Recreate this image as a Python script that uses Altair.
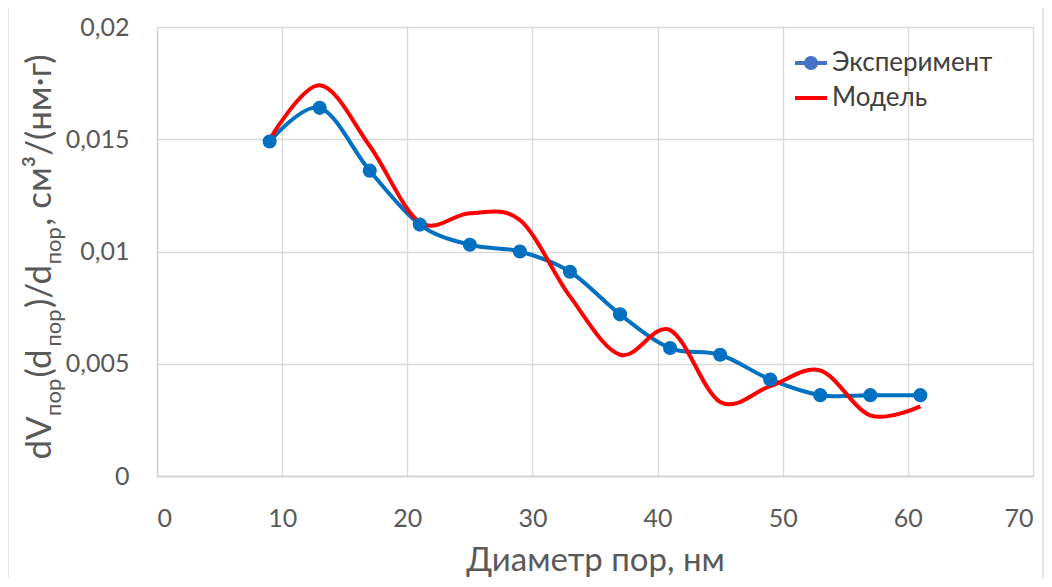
import altair as alt
import pandas as pd

# ---- data ----
diameter = [9, 13, 17, 21, 25, 29, 33, 37, 41, 45, 49, 53, 57, 61]
experiment = [0.0149, 0.0164, 0.0136, 0.0112, 0.0103, 0.0100, 0.0091,
              0.0072, 0.0057, 0.0054, 0.0043, 0.0036, 0.0036, 0.0036]
model = [0.0150, 0.0174, 0.0147, 0.0113, 0.0117, 0.0114, 0.0080,
         0.0054, 0.0065, 0.0033, 0.0040, 0.0047, 0.0027, 0.0031]
x_ticks = [0, 10, 20, 30, 40, 50, 60, 70]
y_ticks = [0, 0.005, 0.01, 0.015, 0.02]
series_names = ["Эксперимент", "Модель"]
x_title = "Диаметр пор, нм"

BLUE = "#0070C0"
LEGEND_BLUE = "#4472C4"
RED = "#FF0000"
GRID = "#d9d9d9"
TXT = "#595959"
FONT = "Lato"

W, H = 876, 449

exp_df = pd.DataFrame({"d": diameter, "v": experiment})
mod_df = pd.DataFrame({"d": diameter, "v": model})

xscale = alt.Scale(domain=[0, 70], nice=False, zero=False)
yscale = alt.Scale(domain=[0, 0.02], nice=False)

xaxis = alt.Axis(values=x_ticks, grid=True, gridColor=GRID, gridWidth=1.3,
                 ticks=False, domainColor="#cfcfcf", domainWidth=1.3,
                 labelFont=FONT, labelFontSize=25, labelColor=TXT, labelPadding=30,
                 title=x_title, titleFont=FONT, titleFontSize=33,
                 titleFontWeight="normal", titleColor=TXT, titlePadding=13)
yaxis = alt.Axis(values=y_ticks, grid=True, gridColor=GRID, gridWidth=1.3,
                 ticks=False, domainColor="#cfcfcf", domainWidth=1.3,
                 labelFont=FONT, labelFontSize=25, labelColor=TXT, labelPadding=28,
                 labelExpr="replace(toString(datum.value), '.', ',')",
                 title=None)

blue_line = alt.Chart(exp_df).mark_line(
    color=BLUE, strokeWidth=4, interpolate="cardinal"
).encode(
    x=alt.X("d:Q", scale=xscale, axis=xaxis),
    y=alt.Y("v:Q", scale=yscale, axis=yaxis),
)
red_line = alt.Chart(mod_df).mark_line(
    color=RED, strokeWidth=4, interpolate="cardinal"
).encode(x=alt.X("d:Q", scale=xscale), y=alt.Y("v:Q", scale=yscale))
blue_pts = alt.Chart(exp_df).mark_point(
    filled=True, color=BLUE, size=200, opacity=1, shape="circle"
).encode(x=alt.X("d:Q", scale=xscale), y=alt.Y("v:Q", scale=yscale))

one = pd.DataFrame({"a": [0]})

def text_piece(txt, x, y, size, angle=0, align="left", baseline="alphabetic", color=TXT):
    kw = dict(font=FONT, fontSize=size, color=color, align=align, baseline=baseline)
    if angle:
        kw["angle"] = angle
    return alt.Chart(one).mark_text(**kw).encode(
        x=alt.value(x), y=alt.value(y), text=alt.value(txt))

# ---- legend ----
leg_y1, leg_y2 = 36, 71
legend = [
    alt.Chart(one).mark_rule(color=LEGEND_BLUE, strokeWidth=4).encode(
        x=alt.value(638), x2=alt.value(670), y=alt.value(leg_y1)),
    alt.Chart(one).mark_point(filled=True, color=LEGEND_BLUE, size=200, opacity=1,
                              shape="circle").encode(
        x=alt.value(654), y=alt.value(leg_y1)),
    text_piece(series_names[0], 675, leg_y1, 26, baseline="middle", color="#404040"),
    alt.Chart(one).mark_rule(color=RED, strokeWidth=4).encode(
        x=alt.value(638), x2=alt.value(670), y=alt.value(leg_y2)),
    text_piece(series_names[1], 675, leg_y2, 26, baseline="middle", color="#404040"),
]

# ---- y title with subscripts (rotated pieces) ----
MAIN, SUB = 35, 22
pieces = [("dV", MAIN, 1.247), ("пор", SUB, 1.754), ("(d", MAIN, 0.879),
          ("пор", SUB, 1.754), (")/d", MAIN, 1.249), ("пор", SUB, 1.754),
          (",  см³/(нм·г)", MAIN, 5.41)]
total = sum(s * w for _, s, w in pieces)
pos = 221 + total / 2
ytitle = []
for txt, size, wem in pieces:
    bx = -106 if size == MAIN else -96
    ytitle.append(text_piece(txt, bx, pos, size, angle=270))
    pos -= size * wem

# ---- outer chart border ----
border = alt.Chart(one).mark_rect(fill=None, stroke=GRID, strokeWidth=1.3).encode(
    x=alt.value(-149), x2=alt.value(886), y=alt.value(-24), y2=alt.value(600))

chart = alt.layer(border, blue_line, red_line, blue_pts, *legend, *ytitle).properties(
    width=W, height=H,
    autosize=alt.AutoSizeParams(type="none"),
    padding={"left": 149, "top": 19, "right": 11, "bottom": 102},
).configure_view(stroke=None).configure(background="white")

chart.save("out.html", embed_options={"renderer": "svg", "actions": False})
